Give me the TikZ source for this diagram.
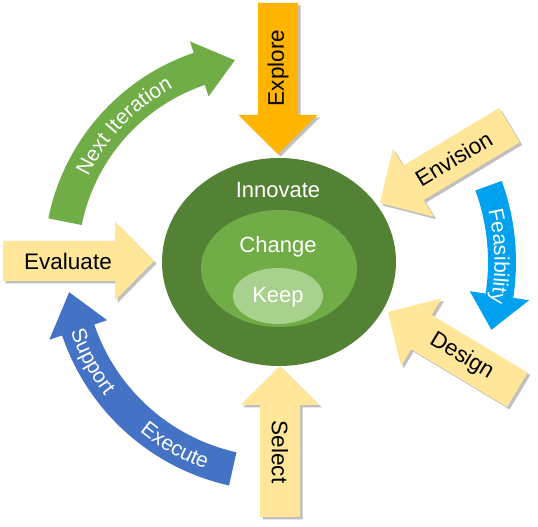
\documentclass[tikz,border=0pt]{standalone}
\usepackage{fontspec}
\setmainfont{Liberation Sans}
\usetikzlibrary{shapes.geometric, shadows, decorations.text, calc}

\definecolor{leaf}{HTML}{548235}
\definecolor{grass}{HTML}{70AD47}
\definecolor{sprout}{HTML}{A9D18E}
\definecolor{sand}{HTML}{FFE699}
\definecolor{amber}{HTML}{FFB400}
\definecolor{ocean}{HTML}{4472C4}
\definecolor{sky}{HTML}{00A2F0}

\tikzset{
  core/.style={ellipse, draw=none, inner sep=0pt, outer sep=0pt},
  coretext/.style={font=\fontsize{22}{22}\selectfont, text=white},
  arrowtext/.style={font=\fontsize{22.5}{22.5}\selectfont, text=black, inner sep=0pt},
  arrowshadow/.style={drop shadow={shadow xshift=2.5pt, shadow yshift=-2.5pt, opacity=0.35, fill=black!70}}
}

\newcommand{\curvedfont}{\fontsize{21}{21}\selectfont\color{white}}

% straight block arrow: name, tail, angle, text angle, colour, text
\newcommand{\blockarrow}[6]{
  \begin{scope}[shift={#2}, rotate=#3]
    \fill[#5, arrowshadow] (0,-20) -- (112,-20) -- (112,-39.5) -- (151,0)
      -- (112,39.5) -- (112,20) -- (0,20) -- cycle;
  \end{scope}
  \node[arrowtext, rotate=#4] (#1) at ($#2+(#3:65)$) {#6};
}

% bent block arrow: centre, radius, half width, start, end, head half width, tip, colour
\newcommand{\bentarrow}[8]{
  \fill[#8, shift={#1}] (#4:{#2+#3}) arc[start angle=#4, end angle=#5, radius={#2+#3}]
    -- (#5:{#2+#6}) -- (#7:#2) -- (#5:{#2-#6}) -- (#5:{#2-#3})
    arc[start angle=#5, end angle=#4, radius={#2-#3}] -- cycle;
}

\begin{document}
\begin{tikzpicture}[x=1pt, y=1pt]
  \path[fill=white] (0,0) rectangle (538,527);
  \useasboundingbox (0,0) rectangle (538,527);

  % nested ellipses
  \node[core, fill=leaf, minimum width=234pt, minimum height=208pt] (innovate) at (279,265) {};
  \node[core, fill=grass, minimum width=156pt, minimum height=117pt] (change) at (279,258.5) {};
  \node[core, fill=sprout, minimum width=90pt, minimum height=56pt] (keep) at (278,231) {};
  \node[coretext] (innovatelabel) at (278,337) {Innovate};
  \node[coretext] (changelabel) at (278,280) {Change};
  \node[coretext] (keeplabel) at (278,230) {Keep};

  % straight arrows into the core
  \blockarrow{explore}{(278,524)}{-90}{90}{amber}{Explore}
  \blockarrow{select}{(280,10)}{90}{-90}{sand}{Select}
  \blockarrow{evaluate}{(3,266)}{0}{0}{sand}{Evaluate}
  \blockarrow{envision}{(509.4,401.8)}{211}{31}{sand}{Envision}
  \blockarrow{design}{(517.4,137.2)}{149}{-31}{sand}{Design}

  % bent arrows round the core
  \bentarrow{(265,265)}{204}{17}{168.6}{108.8}{29}{98.5}{grass}
  \bentarrow{(279,265)}{212}{17}{257.4}{198.7}{30.5}{188.2}{ocean}
  \bentarrow{(279,265)}{223}{14}{20}{-8.7}{30}{-17.7}{sky}

  \path[shift={(265,265)}, decorate, decoration={text along path, text align=center,
    text={|\curvedfont|Next  Iteration}}] (168:196.5) arc[start angle=168, end angle=104, radius=196.5];
  \path[shift={(279,265)}, decorate, decoration={text along path, text align=center,
    text={|\curvedfont|Support}}] (192:219.5) arc[start angle=192, end angle=224, radius=219.5];
  \path[shift={(279,265)}, decorate, decoration={text along path, text align=center,
    text={|\curvedfont|Execute}}] (225:219.5) arc[start angle=225, end angle=256, radius=219.5];
  \path[shift={(279,265)}, decorate, decoration={text along path, text align=center,
    text={|\curvedfont|Feasibility}}] (18:215.5) arc[start angle=18, end angle=-15, radius=215.5];
\end{tikzpicture}
\end{document}
